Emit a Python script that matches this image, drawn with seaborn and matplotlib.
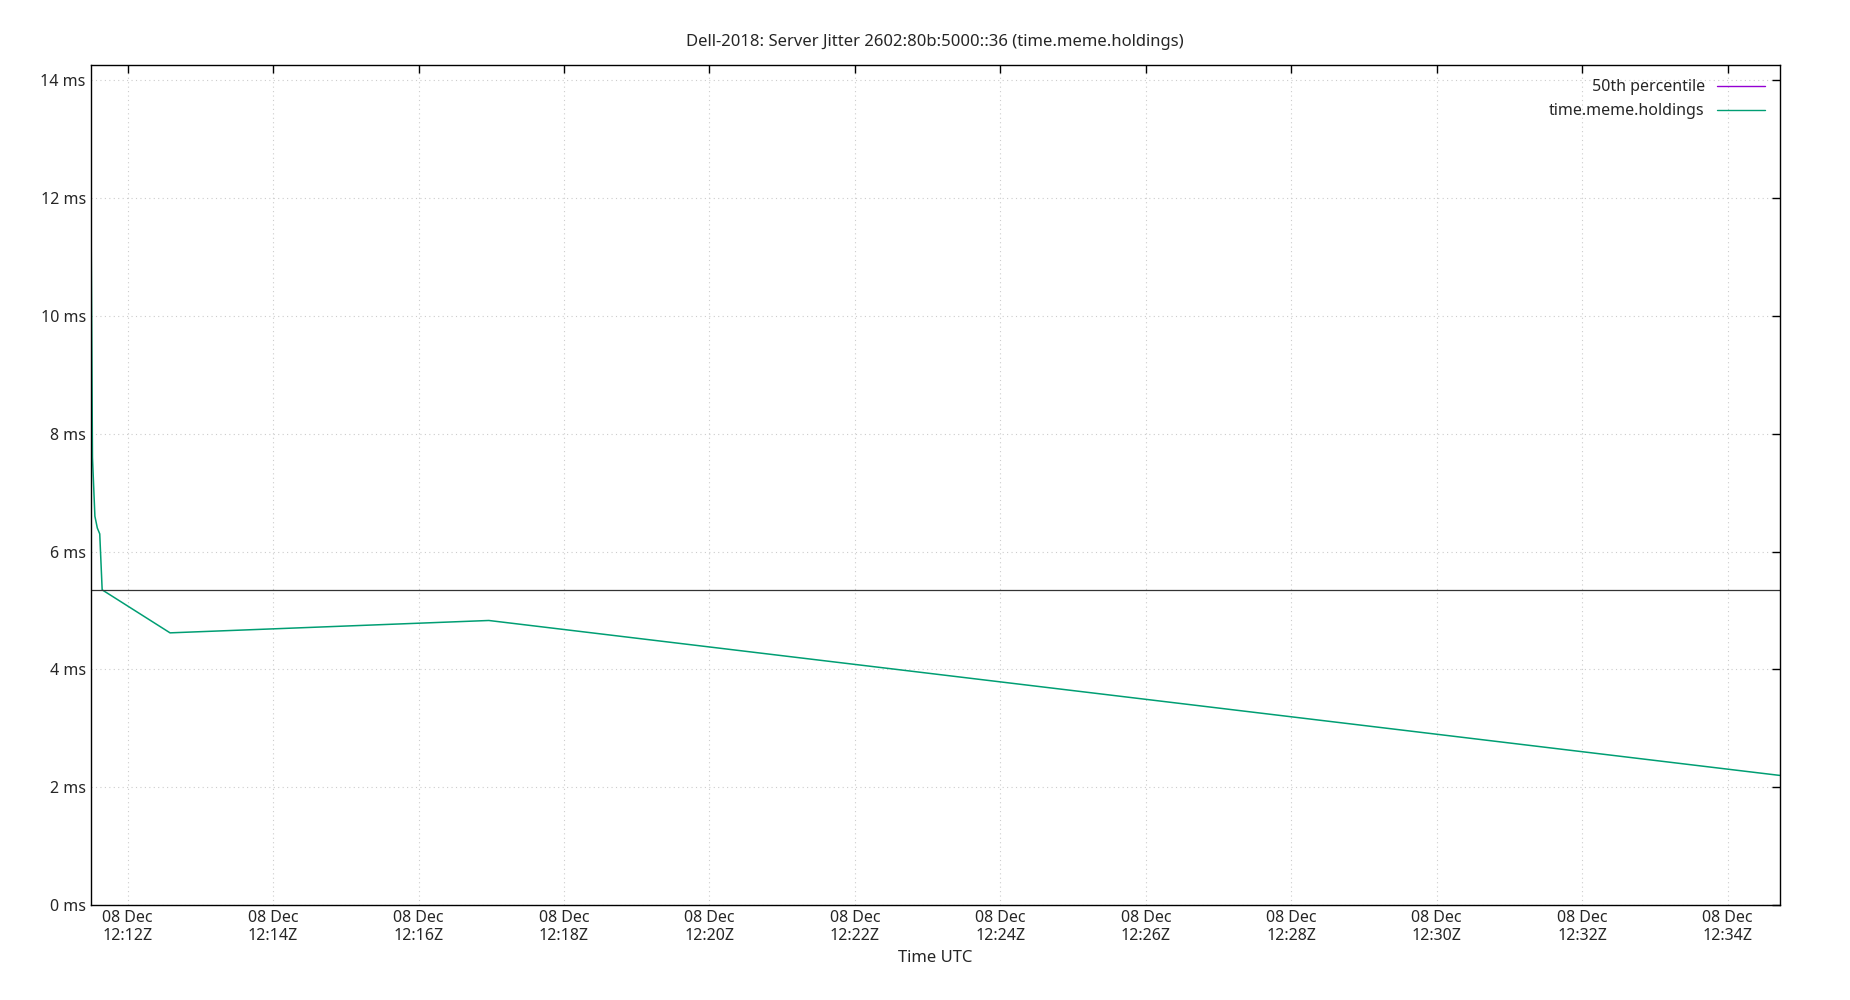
import pandas as pd
import matplotlib
matplotlib.use("Agg")
import matplotlib.pyplot as plt
import matplotlib.dates as mdates
from matplotlib.lines import Line2D
import seaborn as sns

# ==============================
# Data
# ==============================
times = ["2018-12-08 12:11:29", "2018-12-08 12:11:31", "2018-12-08 12:11:33",
         "2018-12-08 12:11:35", "2018-12-08 12:11:37", "2018-12-08 12:11:39",
         "2018-12-08 12:12:35", "2018-12-08 12:16:58", "2018-12-08 12:34:43"]
jitter_ms = [14.6, 7.6, 6.6, 6.4, 6.3, 5.35, 4.62, 4.83, 2.2]
median_ms = 5.35

df = pd.DataFrame({"time": pd.to_datetime(times), "jitter": jitter_ms})

sns.set_style("white")
plt.rcParams["font.family"] = ["Noto Sans", "DejaVu Sans"]

fig, ax = plt.subplots(figsize=(18.5, 10), dpi=100)
fig.subplots_adjust(left=0.049, right=0.962, top=0.935, bottom=0.095)

sns.lineplot(data=df, x="time", y="jitter", ax=ax, color="#009e73", linewidth=1.1)
ax.axhline(median_ms, color="#333333", linewidth=0.9)

ax.set_xlim(pd.Timestamp("2018-12-08 12:11:29.5"), pd.Timestamp("2018-12-08 12:34:43"))
ax.set_ylim(0, 14.26)
ax.set_yticks(range(0, 15, 2))
ax.set_yticklabels([f"{v} ms" for v in range(0, 15, 2)])
ax.xaxis.set_major_locator(mdates.MinuteLocator(byminute=range(0, 60, 2)))
ax.xaxis.set_major_formatter(mdates.DateFormatter("%d %b\n%H:%MZ"))

ax.grid(True, color="#cccccc", linestyle=(0, (1, 3)), linewidth=0.8)
ax.tick_params(axis="both", direction="in", length=6, labelsize=11.5, top=True, right=True,
               color="black", width=1)
for s in ax.spines.values():
    s.set_color("black")
    s.set_linewidth(1)

ax.set_xlabel("Time UTC", fontsize=12)
ax.set_ylabel("")
ax.set_title("Dell-2018: Server Jitter 2602:80b:5000::36 (time.meme.holdings)", fontsize=12, pad=14)

handles = [Line2D([], [], color="#9400d3", linewidth=1),
           Line2D([], [], color="#009e73", linewidth=1)]
leg = ax.legend(handles, ["50th percentile", "time.meme.holdings"], loc="upper right",
                frameon=False, fontsize=11.5, markerfirst=False, handlelength=3)

fig.savefig("out.png")
